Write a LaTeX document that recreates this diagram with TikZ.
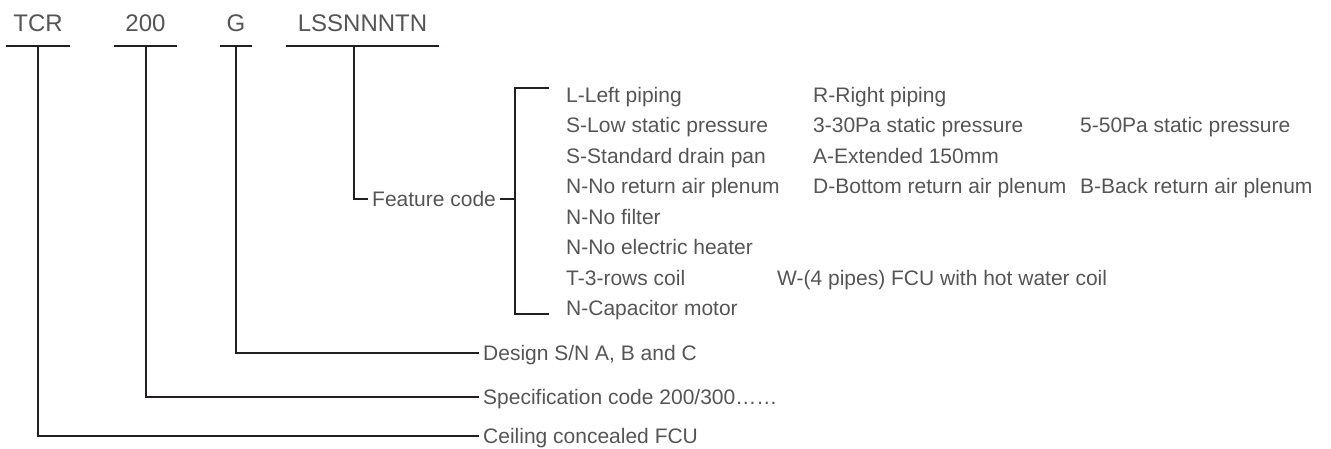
\documentclass[tikz,border=0pt]{standalone}
\usepackage{fontspec}
\setmainfont{Liberation Sans}
\usetikzlibrary{positioning,calc}
\definecolor{codegray}{RGB}{85,85,85}
\definecolor{linedark}{RGB}{35,31,32}
\tikzstyle{code} = [font=\fontsize{24}{28}\selectfont, text=codegray, text height=17pt, text depth=0pt, inner xsep=0pt, inner ysep=14.5pt, anchor=base]
\tikzstyle{note} = [font=\fontsize{21}{25}\selectfont, text=codegray, text height=15pt, text depth=0pt, inner xsep=4pt, inner ysep=0pt, anchor=west]
\tikzstyle{wire} = [draw=linedark, line width=2pt]

\begin{document}
\begin{tikzpicture}[x=1pt,y=-1pt]
	\useasboundingbox (0,0) rectangle (1331,448);
	% model code parts
	\node[code, minimum width=64pt] (tcr) at (38,31) {TCR};
	\node[code, minimum width=63pt] (size) at (145.5,31) {200};
	\node[code, minimum width=32pt] (design) at (236,31) {G};
	\node[code, minimum width=153pt] (feature) at (362.5,31) {LSSNNNTN};
	\foreach \n in {tcr,size,design,feature}
	\draw[wire] (\n.south west) -- (\n.south east);
	% meanings
	\node[note] (dCeil) at (479,436) {Ceiling concealed FCU};
	\node[note] (dSpec) at (479,397) {Specification code 200/300……};
	\node[note] (dDes) at (479,353) {Design S/N A, B and C};
	\node[note] (dFeat) at (368,199) {Feature code};
	\draw[wire] (tcr.south) |- (dCeil.west);
	\draw[wire] (size.south) |- (dSpec.west);
	\draw[wire] (design.south) |- (dDes.west);
	\draw[wire] ([xshift=-8.5pt]feature.south) |- (dFeat.west);
	% bracket
	\coordinate (brtop) at (549,88);
	\coordinate (brmid) at (515,199);
	\coordinate (brbot) at (549,314);
	\draw[wire] (dFeat.east) -- (brmid);
	\draw[wire] (brtop) -| (brmid) |- (brbot);
	% feature options
	\foreach \txt [count=\i] in {L-Left piping, S-Low static pressure, S-Standard drain pan, N-No return air plenum, N-No filter, N-No electric heater, T-3-rows coil, N-Capacitor motor}
	\node[note] (opt\i) at (562,{95+30.43*(\i-1)}) {\txt};
	\foreach \r/\txt in {1/R-Right piping, 2/3-30Pa static pressure, 3/A-Extended 150mm, 4/D-Bottom return air plenum}
	\node[note] (alt\r) at (809,{95+30.43*(\r-1)}) {\txt};
	\node[note] (alt7) at (773,{95+30.43*6}) {W-(4 pipes) FCU with hot water coil};
	\foreach \r/\txt in {2/5-50Pa static pressure, 4/B-Back return air plenum}
	\node[note] (more\r) at (1076,{95+30.43*(\r-1)}) {\txt};
\end{tikzpicture}
\end{document}
